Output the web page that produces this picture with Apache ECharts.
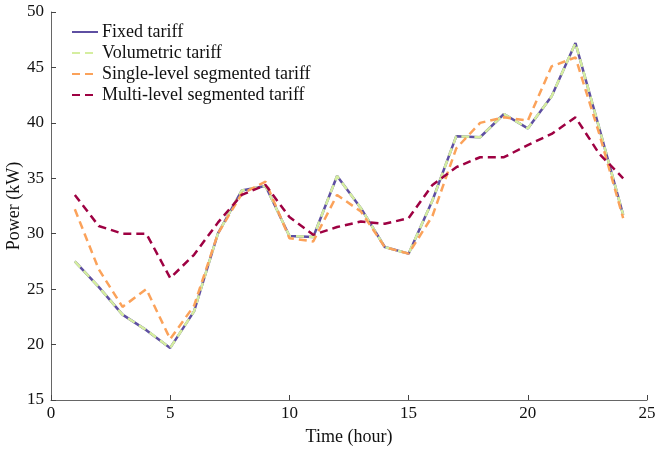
<!DOCTYPE html>
<html>
<head>
<meta charset="utf-8">
<script src="https://cdn.jsdelivr.net/npm/echarts@6/dist/echarts.min.js"></script>
<style>
  html, body { margin: 0; padding: 0; background: #fff; }
  #chart { width: 657px; height: 455px; }
</style>
</head>
<body>
<div id="chart"></div>
<script>
// Hourly power demand under four tariff schemes
const hours = [1, 2, 3, 4, 5, 6, 7, 8, 9, 10, 11, 12, 13, 14, 15, 16, 17, 18, 19, 20, 21, 22, 23, 24];
const fixedTariff = [27.5, 25.2, 22.7, 21.3, 19.7, 23.0, 30.0, 33.9, 34.3, 29.8, 29.7, 35.2, 32.3, 28.8, 28.2, 33.0, 38.8, 38.7, 40.8, 39.5, 42.4, 47.2, 39.5, 31.7];
const volumetricTariff = [27.5, 25.2, 22.7, 21.3, 19.7, 23.0, 30.0, 33.9, 34.3, 29.8, 29.7, 35.2, 32.3, 28.8, 28.2, 33.0, 38.8, 38.7, 40.8, 39.5, 42.4, 47.2, 39.5, 31.7];
const singleLevelTariff = [32.2, 26.8, 23.4, 25.0, 20.5, 23.5, 30.0, 33.6, 34.7, 29.6, 29.3, 33.5, 32.0, 28.8, 28.2, 31.6, 37.7, 40.0, 40.5, 40.2, 45.1, 45.9, 39.0, 31.4];
const multiLevelTariff = [33.5, 30.7, 30.0, 30.0, 26.0, 28.1, 31.0, 33.5, 34.4, 31.5, 29.9, 30.6, 31.1, 30.9, 31.4, 34.4, 36.0, 36.9, 36.9, 38.0, 39.0, 40.5, 37.2, 35.0];
const seriesNames = ['Fixed tariff', 'Volumetric tariff', 'Single-level segmented tariff', 'Multi-level segmented tariff'];

const font = 'Liberation Serif, Times New Roman, serif';
const pairs = arr => hours.map((h, i) => [h, arr[i]]);

function lineSeries(name, values, color, dashed, z) {
  return {
    name: name,
    type: 'line',
    data: pairs(values),
    symbol: 'none',
    z: z,
    lineStyle: { color: color, width: 2.5, type: dashed ? [8, 5] : 'solid' },
    itemStyle: { color: color },
    emphasis: { disabled: true }
  };
}

const chart = echarts.init(document.getElementById('chart'), null, { renderer: 'canvas' });
chart.setOption({
  animation: false,
  backgroundColor: '#fff',
  grid: { left: 51, right: 10, top: 12, bottom: 55, containLabel: false, outerBoundsMode: 'none' },
  legend: {
    orient: 'vertical',
    left: 71,
    top: 23,
    itemWidth: 26,
    itemHeight: 14,
    itemGap: 3,
    padding: 0,
    itemStyle: { opacity: 0 },
    data: seriesNames,
    textStyle: { fontFamily: font, fontSize: 18, lineHeight: 18, color: '#111', padding: [0, 0, 0, -1] }
  },
  xAxis: {
    type: 'value',
    min: 0, max: 25, interval: 5,
    name: 'Time (hour)',
    nameLocation: 'middle',
    nameGap: 28,
    nameMoveOverlap: false,
    nameTextStyle: { fontFamily: font, fontSize: 18, color: '#111' },
    axisLine: { show: true, lineStyle: { color: '#666', width: 1 } },
    axisTick: { show: true, inside: true, length: 5, lineStyle: { color: '#444' } },
    axisLabel: { fontFamily: font, fontSize: 17, color: '#111', margin: 5 },
    splitLine: { show: false }
  },
  yAxis: {
    type: 'value',
    min: 15, max: 50, interval: 5,
    name: 'Power (kW)',
    nameLocation: 'middle',
    nameGap: 28,
    nameMoveOverlap: false,
    nameRotate: 90,
    nameTextStyle: { fontFamily: font, fontSize: 18, color: '#111' },
    axisLine: { show: true, lineStyle: { color: '#666', width: 1 } },
    axisTick: { show: true, inside: true, length: 5, lineStyle: { color: '#444' } },
    axisLabel: { fontFamily: font, fontSize: 17, color: '#111', margin: 7 },
    splitLine: { show: false }
  },
  series: [
    lineSeries(seriesNames[0], fixedTariff, '#5e4fa2', false, 2),
    lineSeries(seriesNames[1], volumetricTariff, '#d5eea0', true, 3),
    lineSeries(seriesNames[2], singleLevelTariff, '#fba25a', true, 4),
    lineSeries(seriesNames[3], multiLevelTariff, '#9e0142', true, 5)
  ]
});
</script>
</body>
</html>
